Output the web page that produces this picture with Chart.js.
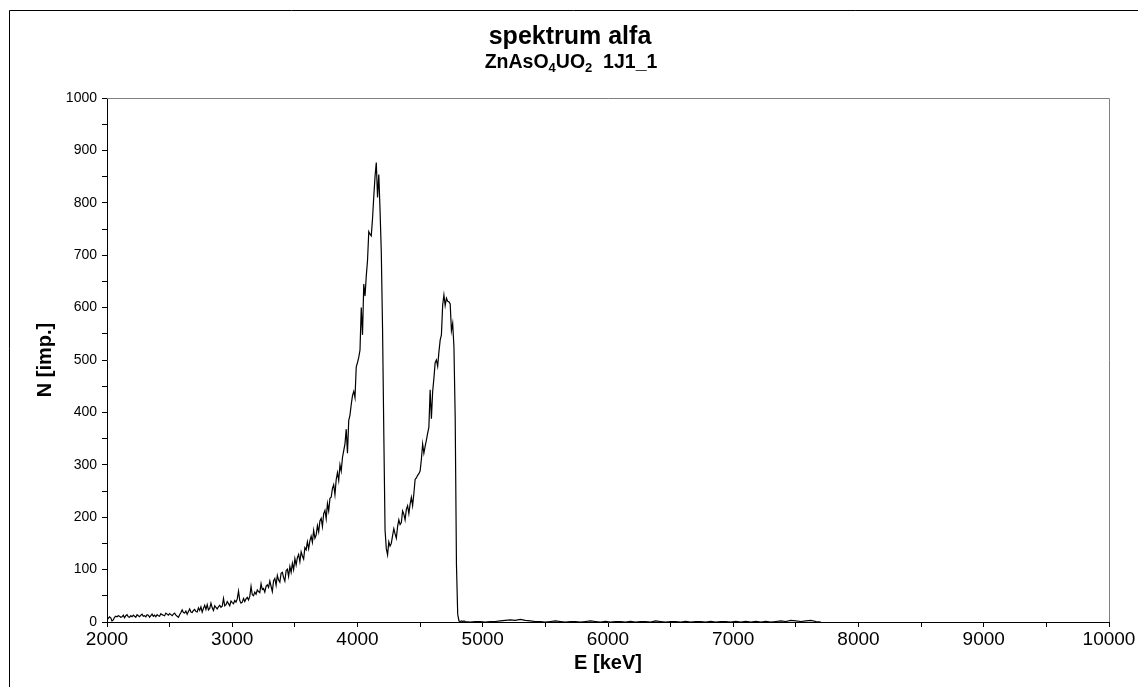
<!DOCTYPE html>
<html>
<head>
<meta charset="utf-8">
<script src="https://cdn.jsdelivr.net/npm/chart.js@4/dist/chart.umd.min.js"></script>
<style>
  html, body { margin: 0; padding: 0; background: #ffffff; }
  #wrap { position: relative; width: 1138px; height: 687px; }
</style>
</head>
<body>
<div id="wrap"><canvas id="c" width="1138" height="687"></canvas></div>
<script>
// ---- chart texts ----
const titleText = "spektrum alfa";
// subtitle pieces: [text, isSubscript]
const subtitleParts = [["ZnAsO", false], ["4", true], ["UO", false], ["2", true], ["  1J1_1", false]];
const xAxisTitle = "E [keV]";
const yAxisTitle = "N [imp.]";

// ---- axis ticks ----
const xTickLabels = [2000, 3000, 4000, 5000, 6000, 7000, 8000, 9000, 10000];
const yTickLabels = [0, 100, 200, 300, 400, 500, 600, 700, 800, 900, 1000];

// ---- spectrum (energy calibration: start + step * channel) ----
const mainStartE = 2000;
const mainStepE = 10;
const mainCounts = [
  4, 7, 10, 8, 2, 4, 9, 11, 10, 12,
  11, 9, 10, 13, 8, 12, 14, 10, 9, 12,
  10, 13, 11, 9, 14, 12, 10, 13, 15, 11,
  12, 10, 14, 13, 9, 12, 15, 11, 13, 10,
  14, 12, 11, 16, 14, 13, 12, 17, 15, 13,
  16, 14, 12, 15, 17, 13, 11, 9, 14, 18,
  23, 18, 17, 21, 15, 20, 25, 19, 18, 22,
  24, 20, 19, 27, 22, 29, 19, 26, 32, 24,
  33, 23, 26, 36, 27, 22, 31, 28, 25, 29,
  32, 28, 30, 45, 31, 33, 39, 35, 31, 40,
  37, 35, 41, 38, 44, 59, 41, 36, 38, 45,
  39, 44, 47, 42, 49, 68, 52, 50, 57, 53,
  61, 58, 56, 73, 62, 64, 57, 68, 71, 66,
  78, 68, 58, 79, 83, 70, 89, 80, 76, 93,
  95, 85, 78, 98, 101, 87, 106, 95, 112, 100,
  121, 109, 123, 129, 115, 134, 126, 120, 142, 138,
  153, 140, 155, 164, 152, 175, 160, 166, 184, 172,
  193, 198, 182, 207, 213, 197, 226, 212, 236, 238,
  255, 262, 243, 272, 285, 270, 300, 288, 314, 327,
  340, 368, 322, 385, 395, 415, 432, 440, 428, 487,
  495, 505, 519, 600, 548, 645, 622, 660, 690, 745,
  740, 737, 770, 812, 850, 877, 810, 854, 786, 705,
  560, 360, 175, 140, 128, 153, 145, 150, 165, 178,
  168, 160, 182, 195, 186, 190, 212, 206, 195, 215,
  222, 207, 225, 238, 222, 245, 272, 275, 280, 283,
  288, 310, 340, 322, 335, 347, 360, 372, 443, 388,
  440, 465, 495, 500, 488, 515, 538, 548, 605, 624,
  604, 618, 612, 611, 607, 556, 570, 525, 390, 110,
  15, 2, 1, 2, 1, 2
];
const tailStartE = 4860;
const tailStepE = 40;
const tailCounts = [
  1, 0, 1, 1, 0, 1, 1,
  2, 3, 4, 3, 5, 3, 2,
  1, 1, 0, 1, 2, 1, 0, 1, 1, 0,
  1, 2, 1, 0, 1, 0, 1, 1, 0, 1,
  0, 1, 1, 0, 2, 1, 0, 1, 1, 0,
  1, 0, 1, 1, 0, 1, 0, 1, 1, 0,
  1, 0, 1, 0, 1, 0, 1, 0, 1,
  2, 1, 3, 2, 1, 2, 3, 1, 0
];

const points = [];
mainCounts.forEach((n, i) => points.push({ x: mainStartE + i * mainStepE, y: n }));
tailCounts.forEach((n, i) => points.push({ x: tailStartE + i * tailStepE, y: n }));

const FONT = "'Liberation Sans', Arial, Helvetica, sans-serif";

const decorPlugin = {
  id: 'decor',
  afterDraw(chart) {
    const ctx = chart.ctx;
    const a = chart.chartArea;
    ctx.save();
    // plot area border (grey) top and right
    ctx.strokeStyle = '#808080';
    ctx.lineWidth = 1;
    ctx.beginPath();
    ctx.moveTo(a.left, Math.round(a.top) + 0.5);
    ctx.lineTo(Math.round(a.right) + 0.5, Math.round(a.top) + 0.5);
    ctx.lineTo(Math.round(a.right) + 0.5, a.bottom);
    ctx.stroke();
    // outer chart border
    ctx.strokeStyle = '#000000';
    ctx.beginPath();
    ctx.moveTo(9.5, 687);
    ctx.lineTo(9.5, 10.5);
    ctx.lineTo(1138, 10.5);
    ctx.stroke();
    // title
    ctx.fillStyle = '#000000';
    ctx.textAlign = 'center';
    ctx.textBaseline = 'alphabetic';
    ctx.font = 'bold 25px ' + FONT;
    ctx.fillText(titleText, 570, 44);
    // subtitle with subscripts
    const mainFont = 'bold 19.5px ' + FONT;
    const subFont = 'bold 13px ' + FONT;
    let total = 0;
    subtitleParts.forEach(([t, sub]) => {
      ctx.font = sub ? subFont : mainFont;
      total += ctx.measureText(t).width;
    });
    let x = 571 - total / 2;
    ctx.textAlign = 'left';
    subtitleParts.forEach(([t, sub]) => {
      ctx.font = sub ? subFont : mainFont;
      ctx.fillText(t, x, sub ? 72 : 68);
      x += ctx.measureText(t).width;
    });
    ctx.restore();
  }
};

new Chart(document.getElementById('c'), {
  type: 'line',
  data: {
    datasets: [{
      data: points,
      borderColor: '#000000',
      borderWidth: 1.2,
      pointRadius: 0,
      tension: 0,
      fill: false
    }]
  },
  options: {
    responsive: false,
    animation: false,
    devicePixelRatio: 1,
    parsing: false,
    normalized: true,
    layout: { padding: { left: 0, right: 29, top: 98, bottom: 0 } },
    plugins: {
      legend: { display: false },
      title: { display: false },
      tooltip: { enabled: false }
    },
    scales: {
      x: {
        type: 'linear',
        min: 2000,
        max: 10000,
        afterFit(scale) { scale.height = 65; },
        ticks: {
          stepSize: 500,
          autoSkip: false,
          maxRotation: 0,
          padding: 1,
          color: '#000000',
          font: { family: FONT, size: 19 },
          callback: (v) => xTickLabels.includes(v) ? String(v) : ''
        },
        grid: { drawOnChartArea: false, drawTicks: true, tickLength: 5, color: '#000000' },
        border: { display: true, color: '#000000', width: 1 },
        title: {
          display: true,
          text: xAxisTitle,
          color: '#000000',
          font: { family: FONT, size: 20, weight: 'bold' },
          padding: { top: 0, bottom: 12 }
        }
      },
      y: {
        type: 'linear',
        min: 0,
        max: 1000,
        afterFit(scale) { scale.width = 107; },
        ticks: {
          stepSize: 50,
          autoSkip: false,
          padding: 5,
          color: '#000000',
          font: { family: FONT, size: 14 },
          callback: (v) => yTickLabels.includes(v) ? String(v) : ''
        },
        grid: { drawOnChartArea: false, drawTicks: true, tickLength: 5, color: '#000000' },
        border: { display: true, color: '#000000', width: 1 },
        title: {
          display: true,
          text: yAxisTitle,
          color: '#000000',
          font: { family: FONT, size: 20, weight: 'bold' },
          padding: { top: 33, bottom: 0 }
        }
      }
    }
  },
  plugins: [decorPlugin]
});
</script>
</body>
</html>
